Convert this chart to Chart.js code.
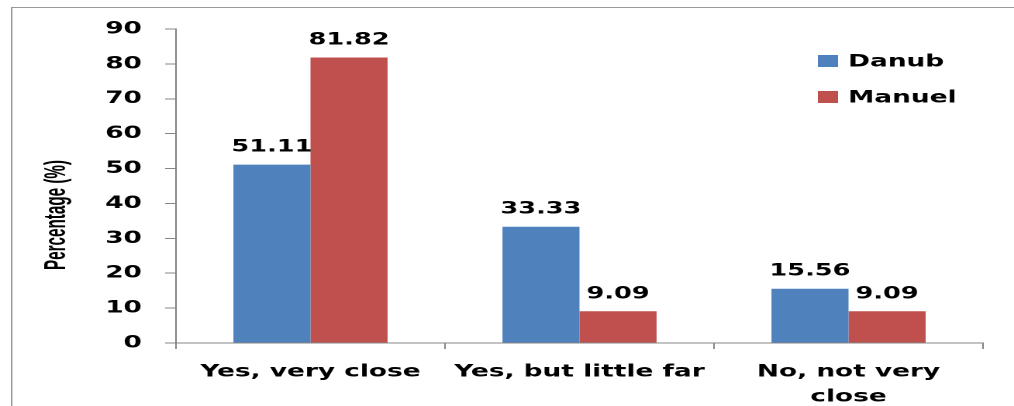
<!DOCTYPE html>
<html>
<head>
    <title>Distance survey</title>
    <script src="https://cdn.jsdelivr.net/npm/chart.js"></script>
    <style>
        body { margin: 0; background: #fff; overflow: hidden; }
        /* the chart is laid out narrow and stretched sideways, like the original figure */
        #wrap {
            width: 654px;
            height: 406px;
            transform: scaleX(1.5505);
            transform-origin: 0 0;
        }
    </style>
</head>
<body>
    <div id="wrap"><canvas id="distanceChart"></canvas></div>

    <script>
        const categories = ['Yes, very close', 'Yes, but little far', ['No, not very', 'close']];
        const seriesNames = ['Danub', 'Manuel'];
        const danubValues = [51.11, 33.33, 15.56];
        const manuelValues = [81.82, 9.09, 9.09];
        const yTicks = [0, 10, 20, 30, 40, 50, 60, 70, 80, 90];
        const yTitle = 'Percentage (%)';

        const FONT = '"DejaVu Sans", Verdana, sans-serif';
        const AXIS_GREY = '#868686';

        // outer frame, only the top and left edges fall inside the page
        const framePlugin = {
            id: 'frame',
            beforeDraw(chart) {
                const ctx = chart.ctx;
                ctx.save();
                ctx.strokeStyle = '#9a9a9a';
                ctx.lineWidth = 1;
                ctx.beginPath();
                ctx.moveTo(7.5, chart.height);
                ctx.lineTo(7.5, 7.5);
                ctx.lineTo(chart.width, 7.5);
                ctx.stroke();
                ctx.restore();
            }
        };

        // narrow rotated axis title
        const axisTitle = {
            id: 'axisTitle',
            afterDraw(chart) {
                const ctx = chart.ctx;
                ctx.save();
                ctx.font = 'bold 19px "Liberation Sans", Arial, sans-serif';
                ctx.fillStyle = '#000';
                ctx.textAlign = 'center';
                ctx.textBaseline = 'alphabetic';
                const w = ctx.measureText(yTitle).width;
                ctx.translate(42, 215);
                ctx.rotate(-Math.PI / 2);
                ctx.scale(110 / w, 1);
                ctx.fillText(yTitle, 0, 0);
                ctx.restore();
            }
        };

        // value printed above each bar
        const valueLabels = {
            id: 'valueLabels',
            afterDatasetsDraw(chart) {
                const ctx = chart.ctx;
                ctx.save();
                ctx.font = 'bold 16.5px ' + FONT;
                ctx.fillStyle = '#000';
                ctx.textAlign = 'center';
                ctx.textBaseline = 'alphabetic';
                chart.data.datasets.forEach((ds, i) => {
                    chart.getDatasetMeta(i).data.forEach((bar, j) => {
                        ctx.fillText(ds.data[j].toFixed(2), bar.x, bar.y - 13);
                    });
                });
                ctx.restore();
            }
        };

        // legend box in the upper right of the plot
        const sideLegend = {
            id: 'sideLegend',
            afterDraw(chart) {
                const ctx = chart.ctx;
                ctx.save();
                ctx.font = 'bold 17px ' + FONT;
                ctx.textBaseline = 'middle';
                chart.data.datasets.forEach((ds, i) => {
                    const cy = 61 + i * 36;
                    ctx.fillStyle = ds.backgroundColor;
                    ctx.fillRect(527.5, cy - 6, 13, 12);
                    ctx.fillStyle = '#000';
                    ctx.fillText(ds.label, 547, cy + 1);
                });
                ctx.restore();
            }
        };

        new Chart(document.getElementById('distanceChart'), {
            type: 'bar',
            data: {
                labels: categories,
                datasets: [{
                    label: seriesNames[0],
                    data: danubValues,
                    backgroundColor: '#4F81BD',
                    categoryPercentage: 0.573,
                    barPercentage: 1.0
                }, {
                    label: seriesNames[1],
                    data: manuelValues,
                    backgroundColor: '#C0504D',
                    categoryPercentage: 0.573,
                    barPercentage: 1.0
                }]
            },
            options: {
                responsive: true,
                maintainAspectRatio: false,
                devicePixelRatio: 2,
                animation: false,
                layout: { padding: { top: 29, right: 20, left: 0, bottom: 0 } },
                plugins: {
                    legend: { display: false },
                    tooltip: { enabled: false }
                },
                scales: {
                    x: {
                        grid: {
                            drawOnChartArea: false,
                            tickLength: 6,
                            color: AXIS_GREY
                        },
                        border: { color: AXIS_GREY, width: 1 },
                        ticks: {
                            color: '#000',
                            padding: 11,
                            maxRotation: 0,
                            font: { family: FONT, size: 17, weight: 'bold', lineHeight: 1.45 }
                        },
                        afterFit(scale) { scale.height = 63; }
                    },
                    y: {
                        min: yTicks[0],
                        max: yTicks[yTicks.length - 1],
                        afterBuildTicks(scale) {
                            scale.ticks = yTicks.map(v => ({ value: v }));
                        },
                        grid: {
                            drawOnChartArea: false,
                            tickLength: 7,
                            color: AXIS_GREY
                        },
                        border: { color: AXIS_GREY, width: 1 },
                        ticks: {
                            color: '#000',
                            padding: 15,
                            font: { family: FONT, size: 17, weight: 'bold' }
                        },
                        afterFit(scale) { scale.width = 113.5; }
                    }
                }
            },
            plugins: [framePlugin, axisTitle, valueLabels, sideLegend]
        });
    </script>
</body>
</html>
